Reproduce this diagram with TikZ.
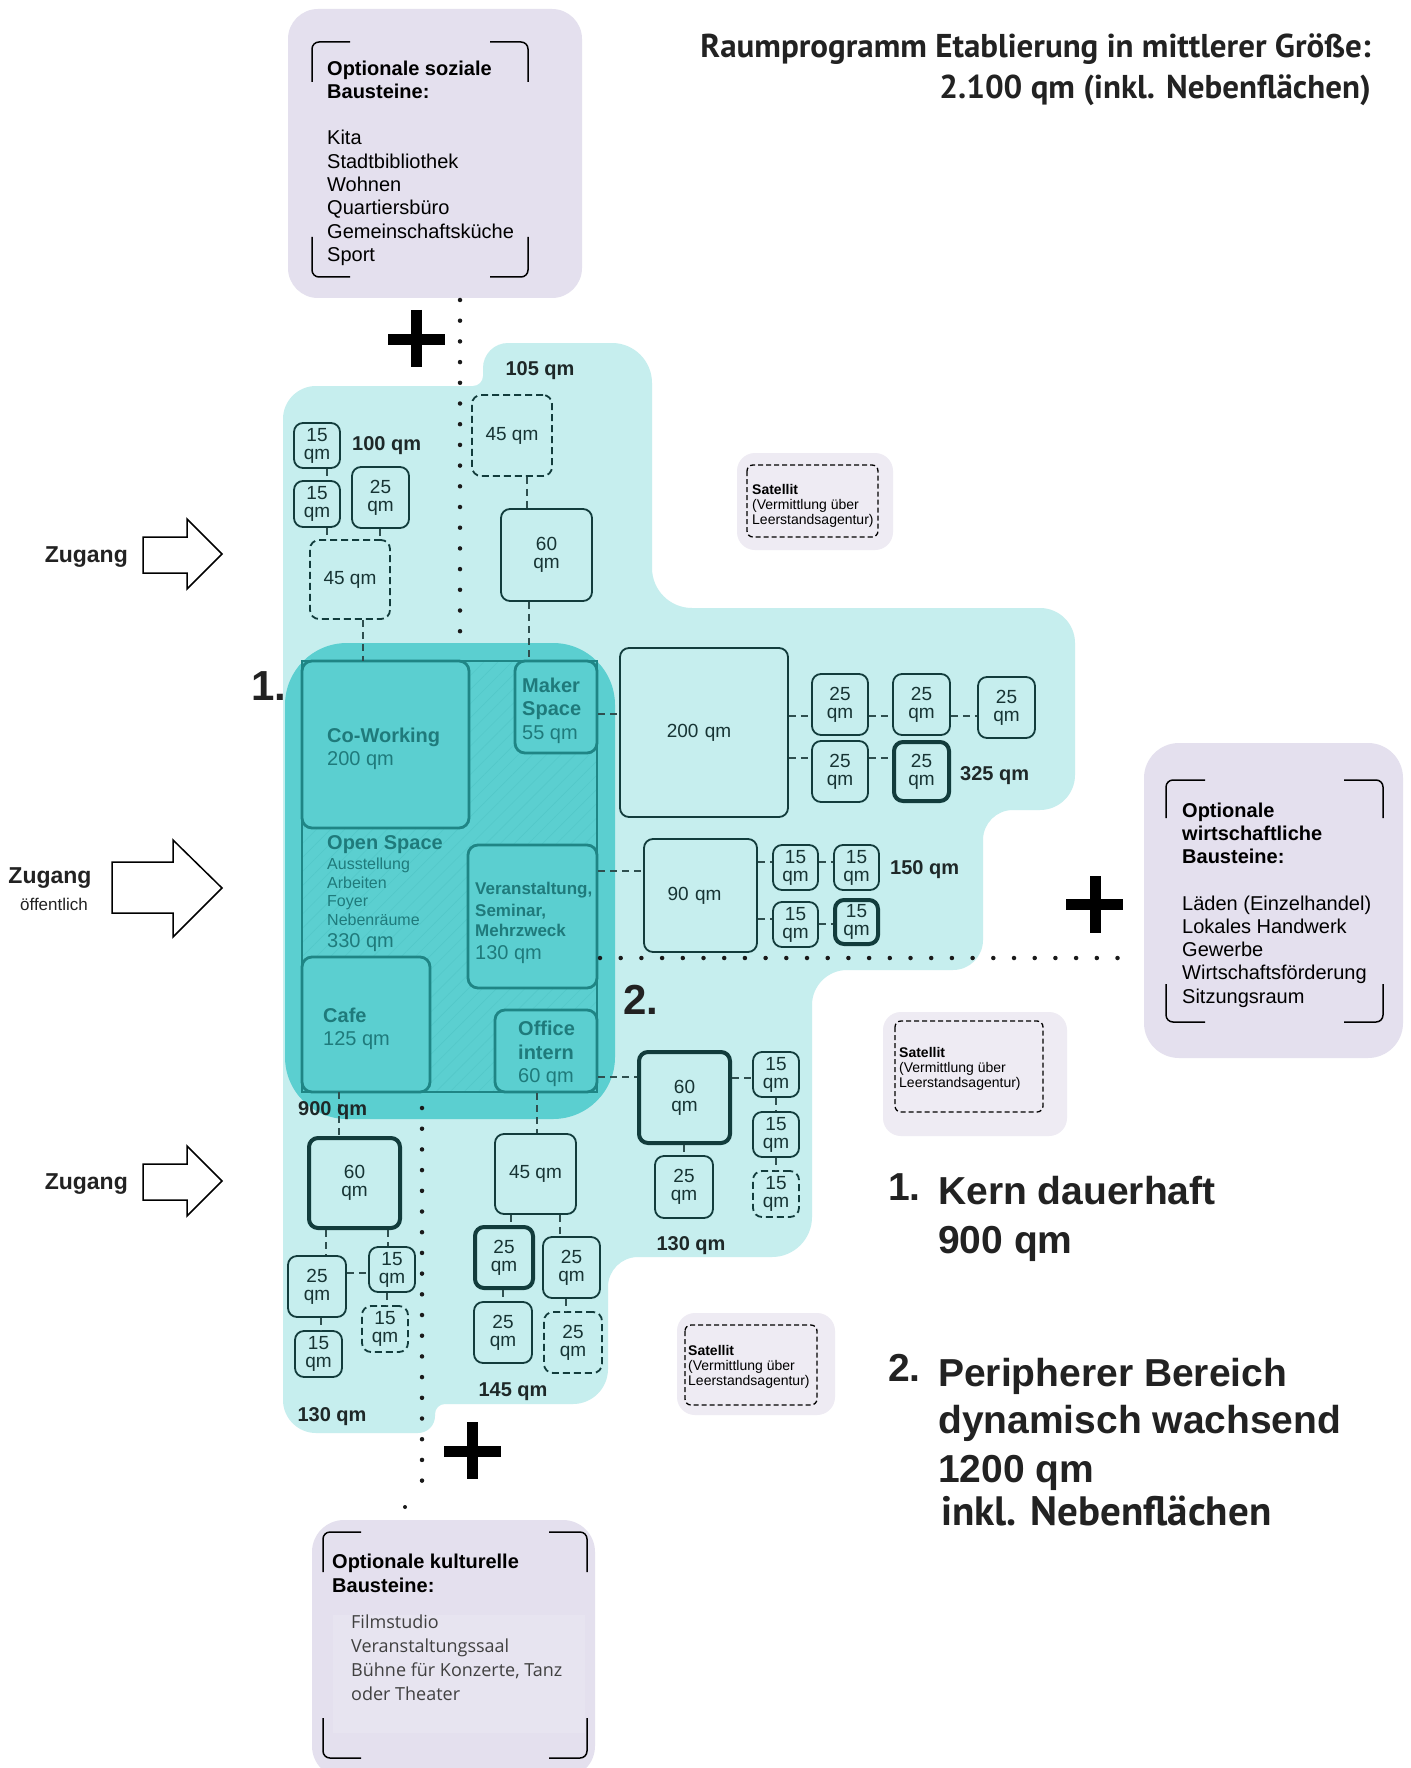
\documentclass[tikz,border=0pt]{standalone}
\usepackage{fontspec}
\setmainfont{Liberation Sans}
\newfontfamily\headfont{PT Sans}
\newfontfamily\listfont{Open Sans}
\usetikzlibrary{patterns.meta}

\definecolor{lightcyan}{HTML}{C6EEEE}
\definecolor{corefill}{HTML}{5BCFD0}
\definecolor{tealline}{HTML}{1F8585}
\definecolor{coretext}{HTML}{1F7A7B}
\definecolor{hatchc}{HTML}{53C8C9}
\definecolor{boxline}{HTML}{123C3C}
\definecolor{boxtext}{HTML}{173434}
\definecolor{connc}{HTML}{2F4F4F}
\definecolor{darktext}{HTML}{1E2828}
\definecolor{lavender}{HTML}{E4E0EE}
\definecolor{satfill}{HTML}{EEEBF3}
\definecolor{dotc}{HTML}{1A1A1A}
\definecolor{inktext}{HTML}{222222}

\newcommand{\setfs}[2]{\fontsize{#1}{#2}\selectfont}
% room box: options, name, centre, width, height, text
\newcommand{\room}[6]{\node[room,#1,minimum width=#4pt,minimum height=#5pt] (#2) at (#3) {#6};}
\newcommand{\coreroom}[5]{\node[coreroom,minimum width=#3pt,minimum height=#4pt] (#1) at (#2) {#5};}

\begin{document}
\begin{tikzpicture}[x=1pt,y=-1pt,
  room/.style={draw=boxline, line width=1.8pt, rounded corners=9pt, fill=lightcyan,
    inner sep=0pt, align=center, text=boxtext, font=\setfs{19}{18}},
  heavy/.style={line width=4pt},
  dashroom/.style={dash pattern=on 7pt off 4pt},
  coreroom/.style={draw=tealline, line width=2.8pt, rounded corners=10pt, fill=corefill, inner sep=0pt},
  conn/.style={draw=connc, line width=1.3pt, dash pattern=on 7pt off 5pt},
  sumlab/.style={font=\bfseries\setfs{20}{20}, text=darktext, inner sep=0pt},
  coretxt/.style={anchor=base west, inner sep=0pt, text=coretext},
  dots/.style={draw=dotc, line width=4.5pt, line cap=round, dash pattern=on 0pt off 20.7pt},
  plus/.style={draw=black, line width=11pt},
  bracket/.style={draw=black, line width=1.5pt, rounded corners=7pt},
  arrowshape/.style={draw=black, line width=1.5pt, fill=white, line join=miter},
  sattext/.style={anchor=base west, inner sep=0pt, align=left, font=\setfs{14}{15}, text=black},
  bigtext/.style={anchor=base west, inner sep=0pt, font=\bfseries\setfs{39}{39}, text=inktext}
]
\fill[white] (0,0) rectangle (1410,1768);
\useasboundingbox (0,0) rectangle (1410,1768);

% ---------- title ----------
\node[anchor=base east, inner sep=0pt, font=\headfont\bfseries\setfs{33}{33}, text=inktext] (title1) at (1371,58) {Raumprogramm Etablierung in mittlerer Größe:};
\node[anchor=base east, inner sep=0pt, font=\headfont\bfseries\setfs{33}{33}, text=inktext] (title2) at (1371,99) {2.100 qm (inkl. Nebenflächen)};

% ---------- optional building blocks (multi-line nodes sit on their last baseline) ----------
\fill[lavender, rounded corners=30pt] (288,9) rectangle (582,298);
\draw[bracket] (312,82) -- (312,42) -- (350,42);
\draw[bracket] (490,42) -- (528,42) -- (528,82);
\draw[bracket] (312,237) -- (312,277) -- (350,277);
\draw[bracket] (490,277) -- (528,277) -- (528,237);
\node[anchor=base west, inner sep=0pt, align=left, font=\setfs{20}{23.3}, text=black] (social) at (327,261.5)
  {\textbf{Optionale soziale}\\\textbf{Bausteine:}\\[23.3pt]Kita\\Stadtbibliothek\\Wohnen\\Quartiersbüro\\Gemeinschaftsküche\\Sport};

\fill[lavender, rounded corners=35pt] (1144,743) rectangle (1403,1058);
\draw[bracket] (1166,818) -- (1166,780) -- (1205,780);
\draw[bracket] (1344,780) -- (1383,780) -- (1383,818);
\draw[bracket] (1166,984) -- (1166,1022) -- (1205,1022);
\draw[bracket] (1344,1022) -- (1383,1022) -- (1383,984);
\node[anchor=base west, inner sep=0pt, align=left, font=\setfs{20}{23.2}, text=black] (econ) at (1182,1003)
  {\textbf{Optionale}\\\textbf{wirtschaftliche}\\\textbf{Bausteine:}\\[23.2pt]Läden (Einzelhandel)\\Lokales Handwerk\\Gewerbe\\Wirtschaftsförderung\\Sitzungsraum};

\fill[lavender, rounded corners=32pt] (312,1520) rectangle (595,1778);
\fill[lavender!88!white] (333,1615) rectangle (585,1733);
\draw[bracket] (323,1572) -- (323,1532) -- (361,1532);
\draw[bracket] (549,1532) -- (587,1532) -- (587,1572);
\draw[bracket] (323,1718) -- (323,1758) -- (361,1758);
\draw[bracket] (549,1758) -- (587,1758) -- (587,1718);
\node[anchor=base west, inner sep=0pt, align=left, font=\bfseries\setfs{20}{24}, text=black] (cult) at (332,1592)
  {Optionale kulturelle\\Bausteine:};
\node[anchor=base west, inner sep=0pt, align=left, font=\listfont\setfs{18}{24}, text=black!75] (cultlist) at (351,1700)
  {Filmstudio\\Veranstaltungssaal\\Bühne für Konzerte, Tanz\\oder Theater};

% ---------- satellites ----------
\fill[satfill, rounded corners=18pt] (737,453) rectangle (893,550);
\draw[line width=1.3pt, dash pattern=on 5pt off 3pt, rounded corners=6pt] (747,465) rectangle (878,537);
\node[sattext] (sat1) at (752,524) {\textbf{Satellit}\\(Vermittlung über\\Leerstandsagentur)};

\fill[satfill, rounded corners=18pt] (883,1012) rectangle (1067,1136);
\draw[line width=1.3pt, dash pattern=on 5pt off 3pt, rounded corners=6pt] (895,1021) rectangle (1043,1112);
\node[sattext] (sat2) at (899,1087) {\textbf{Satellit}\\(Vermittlung über\\Leerstandsagentur)};

\fill[satfill, rounded corners=18pt] (677,1313) rectangle (835,1415);
\draw[line width=1.3pt, dash pattern=on 5pt off 3pt, rounded corners=6pt] (685,1325) rectangle (817,1405);
\node[sattext] (sat3) at (688,1385) {\textbf{Satellit}\\(Vermittlung über\\Leerstandsagentur)};

% ---------- peripheral area ----------
\fill[lightcyan] (283,1400) -- (283,419) .. controls (283,400.8) and (297.8,386) .. (316,386)
  -- (473,386) .. controls (478.5,386) and (483,381.5) .. (483,376)
  -- (483,368) .. controls (483,354.2) and (494.2,343) .. (508,343)
  -- (612,343) .. controls (634.1,343) and (652,360.9) .. (652,383)
  -- (652,568) .. controls (652,590.1) and (669.9,608) .. (692,608)
  -- (1040,608) .. controls (1059.3,608) and (1075,623.7) .. (1075,643)
  -- (1075,775) .. controls (1075,794.3) and (1059.3,810) .. (1040,810)
  -- (1013,810) .. controls (996.4,810) and (983,823.4) .. (983,840)
  -- (983,940) .. controls (983,956.6) and (969.6,970) .. (953,970)
  -- (847,970) .. controls (827.7,970) and (812,985.7) .. (812,1005)
  -- (812,1217) .. controls (812,1239.1) and (794.1,1257) .. (772,1257)
  -- (638,1257) .. controls (621.4,1257) and (608,1270.4) .. (608,1287)
  -- (608,1369) .. controls (608,1388.3) and (592.3,1404) .. (573,1404)
  -- (445,1404) .. controls (439.5,1404) and (435,1408.5) .. (435,1414)
  -- (435,1416) .. controls (435,1425.4) and (427.4,1433) .. (418,1433)
  -- (316,1433) .. controls (297.8,1433) and (283,1418.2) .. (283,1400) -- cycle;

% ---------- core ----------
\fill[corefill, rounded corners=62pt] (285,643) rectangle (615,1119);
\node[draw=tealline, line width=2.8pt, minimum width=295pt, minimum height=431pt, inner sep=0pt,
  pattern={Lines[angle=45,distance=10pt,line width=0.6pt]}, pattern color=hatchc] (open) at (449.5,876.5) {};
\coreroom{cowork}{385.5,744.5}{167}{167}{}
\coreroom{maker}{556,707}{82}{92}{}
\coreroom{veran}{532.5,916.5}{129}{143}{}
\coreroom{cafe}{366,1024.5}{128}{135}{}
\coreroom{office}{546,1051}{102}{82}{}

% ---------- rooms ----------
% upper left
\room{}{u15a}{317,445.5}{46}{45}{15\\qm}
\room{}{u15b}{317,504}{46}{46}{15\\qm}
\room{}{u25}{380.5,497.5}{57}{61}{25\\qm}
\room{dashroom}{u45}{350,579.5}{80}{79}{45 qm}
% upper tab
\room{dashroom}{t45}{512,435.5}{80}{81}{45 qm}
\room{}{t60}{546.5,555}{91}{92}{60\\qm}
% right upper
\room{text width=168pt, align=center}{r200}{704,732.5}{168}{169}{\hspace*{-10pt}200 qm}
\room{}{q1}{840,704.5}{56}{61}{25\\qm}
\room{}{q2}{921.5,704.5}{57}{61}{25\\qm}
\room{}{q3}{1006.5,707.5}{57}{61}{25\\qm}
\room{}{q4}{840,771.5}{56}{61}{25\\qm}
\room{heavy}{q5}{921.5,771.5}{55}{59}{25\\qm}
% right middle
\room{text width=113pt, align=center}{r90}{700.5,895.5}{113}{113}{\hspace*{-12pt}90 qm}
\room{}{f1}{795.5,867.5}{45}{45}{15\\qm}
\room{}{f2}{856.5,867.5}{45}{45}{15\\qm}
\room{}{f3}{795.5,924.5}{45}{45}{15\\qm}
\room{heavy}{f4}{856.5,922}{43}{44}{15\\qm}
% right lower
\room{heavy}{r60}{684.5,1097.5}{91}{91}{60\\qm}
\room{}{g1}{776,1074.5}{46}{45}{15\\qm}
\room{}{g2}{776,1134.5}{46}{45}{15\\qm}
\room{dashroom}{g3}{776,1194}{46}{46}{15\\qm}
\room{}{r25}{684,1187}{58}{62}{25\\qm}
% lower left
\room{heavy}{l60}{354.5,1183}{91}{90}{60\\qm}
\room{}{l25}{317,1286.5}{58}{61}{25\\qm}
\room{}{l15a}{392,1269.5}{46}{45}{15\\qm}
\room{dashroom}{l15b}{385,1329}{46}{46}{15\\qm}
\room{}{l15c}{318.5,1354}{47}{46}{15\\qm}
% lower middle
\room{}{m45}{535.5,1174}{81}{80}{45 qm}
\room{heavy}{m25a}{504,1257.5}{58}{61}{25\\qm}
\room{}{m25b}{571.5,1267.5}{57}{61}{25\\qm}
\room{}{m25c}{503,1332.5}{58}{61}{25\\qm}
\room{dashroom}{m25d}{573,1342.5}{58}{61}{25\\qm}

% ---------- connectors ----------
\draw[conn] (u15a.south -| 327,0) -- (u15b.north -| 327,0);
\draw[conn] (u15b.south -| 327,0) -- (u45.north -| 327,0);
\draw[conn] (u25.south -| 380,0) -- (u45.north -| 380,0);
\draw[conn] (u45.south -| 363,0) -- (open.north -| 363,0);
\draw[conn] (t45.south -| 527,0) -- (t60.north -| 527,0);
\draw[conn] (t60.south -| 529,0) -- (maker.north -| 529,0);
\draw[conn] (maker.east |- 0,714) -- (r200.west |- 0,714);
\draw[conn] (r200.east |- 0,716) -- (q1.west |- 0,716);
\draw[conn] (q1.east |- 0,716) -- (q2.west |- 0,716);
\draw[conn] (q2.east |- 0,716) -- (q3.west |- 0,716);
\draw[conn] (r200.east |- 0,758) -- (q4.west |- 0,758);
\draw[conn] (q4.east |- 0,758) -- (q5.west |- 0,758);
\draw[conn] (veran.east |- 0,871) -- (r90.west |- 0,871);
\draw[conn] (r90.east |- 0,862) -- (f1.west |- 0,862);
\draw[conn] (f1.east |- 0,862) -- (f2.west |- 0,862);
\draw[conn] (r90.east |- 0,919) -- (f3.west |- 0,919);
\draw[conn] (f3.east |- 0,924) -- (f4.west |- 0,924);
\draw[conn] (office.east |- 0,1077) -- (r60.west |- 0,1077);
\draw[conn] (r60.east |- 0,1078) -- (g1.west |- 0,1078);
\draw[conn] (g1.south) -- (g2.north);
\draw[conn] (g2.south) -- (g3.north);
\draw[conn] (r60.south -| 684,0) -- (r25.north -| 684,0);
\draw[conn] (open.south -| 339,0) -- (l60.north -| 339,0);
\draw[conn] (l60.south -| 326,0) -- (l25.north -| 326,0);
\draw[conn] (l60.south -| 388,0) -- (l15a.north -| 388,0);
\draw[conn] (l25.east |- 0,1273) -- (l15a.west |- 0,1273);
\draw[conn] (l15a.south -| 387,0) -- (l15b.north -| 387,0);
\draw[conn] (l25.south -| 321,0) -- (l15c.north -| 321,0);
\draw[conn] (office.south -| 537,0) -- (m45.north -| 537,0);
\draw[conn] (m45.south -| 511,0) -- (m25a.north -| 511,0);
\draw[conn] (m45.south -| 560,0) -- (m25b.north -| 560,0);
\draw[conn] (m25a.south -| 503,0) -- (m25c.north -| 503,0);
\draw[conn] (m25b.south -| 566,0) -- (m25d.north -| 566,0);

% ---------- core texts ----------
\node[coretxt, font=\bfseries\setfs{20}{20}] (cwt) at (327,742) {Co-Working};
\node[coretxt, font=\setfs{20}{20}] (cwq) at (327,765) {200 qm};
\node[coretxt, font=\bfseries\setfs{20}{20}] (mk1) at (522,692) {Maker};
\node[coretxt, font=\bfseries\setfs{20}{20}] (mk2) at (522,715) {Space};
\node[coretxt, font=\setfs{20}{20}] (mkq) at (522,739) {55 qm};
\node[coretxt, font=\bfseries\setfs{20}{20}] (ost) at (327,849) {Open Space};
\node[coretxt, font=\setfs{16}{16}] (os1) at (327,869) {Ausstellung};
\node[coretxt, font=\setfs{16}{16}] (os2) at (327,888) {Arbeiten};
\node[coretxt, font=\setfs{16}{16}] (os3) at (327,906) {Foyer};
\node[coretxt, font=\setfs{16}{16}] (os4) at (327,925) {Nebenräume};
\node[coretxt, font=\setfs{20}{20}] (osq) at (327,947) {330 qm};
\node[coretxt, font=\bfseries\setfs{17}{17}] (ve1) at (475,894) {Veranstaltung,};
\node[coretxt, font=\bfseries\setfs{17}{17}] (ve2) at (475,916) {Seminar,};
\node[coretxt, font=\bfseries\setfs{17}{17}] (ve3) at (475,936) {Mehrzweck};
\node[coretxt, font=\setfs{20}{20}] (veq) at (475,959) {130 qm};
\node[coretxt, font=\bfseries\setfs{20}{20}] (cf1) at (323,1022) {Cafe};
\node[coretxt, font=\setfs{20}{20}] (cfq) at (323,1045) {125 qm};
\node[coretxt, font=\bfseries\setfs{20}{20}] (of1) at (518,1035) {Office};
\node[coretxt, font=\bfseries\setfs{20}{20}] (of2) at (518,1059) {intern};
\node[coretxt, font=\setfs{20}{20}] (ofq) at (518,1082) {60 qm};

% ---------- area sums ----------
\node[sumlab, anchor=base west] (s900) at (298,1115) {900 qm};
\node[sumlab, anchor=base west] (s100) at (352,450) {100 qm};
\node[sumlab, anchor=base] (s105) at (540,375) {105 qm};
\node[sumlab, anchor=base west] (s325) at (960,780) {325 qm};
\node[sumlab, anchor=base west] (s150) at (890,874) {150 qm};
\node[sumlab, anchor=base] (s130r) at (691,1250) {130 qm};
\node[sumlab, anchor=base] (s130l) at (332,1421) {130 qm};
\node[sumlab, anchor=base] (s145) at (513,1396) {145 qm};

% ---------- dotted boundaries ----------
\coordinate (dva) at (460,300);
\coordinate (dvb) at (460,645);
\coordinate (dwa) at (422,1108);
\coordinate (dwb) at (422,1496);
\coordinate (dha) at (600,958);
\coordinate (dhb) at (1130,958);
\draw[dots] (dva) -- (dvb);
\draw[dots] (dwa) -- (dwb);
\draw[dots] (dha) -- (dhb);
\fill[dotc] (405,1507) circle (2pt);

% ---------- plus signs ----------
\draw[plus] (388,339) -- (445,339);
\draw[plus] (416,310) -- (416,367);
\draw[plus] (1066,904) -- (1123,904);
\draw[plus] (1095,876) -- (1095,933);
\draw[plus] (444,1451) -- (501,1451);
\draw[plus] (472.5,1422) -- (472.5,1479);

% ---------- numbers ----------
\node[anchor=base west, inner sep=0pt, font=\bfseries\setfs{42}{42}, text=inktext] (n1) at (251,700) {1.};
\node[anchor=base west, inner sep=0pt, font=\bfseries\setfs{42}{42}, text=inktext] (n2) at (623,1014) {2.};

% ---------- entrances ----------
\draw[arrowshape] (143,537) -- (187,537) -- (187,519) -- (222,554) -- (187,589) -- (187,573) -- (143,573) -- cycle;
\draw[arrowshape] (112,862) -- (173,862) -- (173,840) -- (222,888) -- (173,937) -- (173,913) -- (112,913) -- cycle;
\draw[arrowshape] (143,1164) -- (187,1164) -- (187,1146) -- (222,1181) -- (187,1216) -- (187,1200) -- (143,1200) -- cycle;
\node[anchor=base east, inner sep=0pt, font=\bfseries\setfs{23}{23}, text=inktext] (z1) at (128,562) {Zugang};
\node[anchor=base, inner sep=0pt, font=\bfseries\setfs{23}{23}, text=inktext] (z2) at (50,883) {Zugang};
\node[anchor=base, inner sep=0pt, font=\setfs{17}{17}, text=inktext] (z2b) at (54,910) {öffentlich};
\node[anchor=base east, inner sep=0pt, font=\bfseries\setfs{23}{23}, text=inktext] (z3) at (128,1189) {Zugang};

% ---------- legend ----------
\node[bigtext] (k1) at (888,1200) {1.};
\node[bigtext] (k1a) at (938,1204) {Kern dauerhaft};
\node[bigtext] (k1b) at (938,1253) {900 qm};
\node[bigtext] (k2) at (888,1381) {2.};
\node[bigtext] (k2a) at (938,1386) {Peripherer Bereich};
\node[bigtext] (k2b) at (938,1433) {dynamisch wachsend};
\node[bigtext] (k2c) at (938,1482) {1200 qm};
\node[anchor=base west, inner sep=0pt, font=\headfont\bfseries\setfs{41}{41}, text=inktext] (k2d) at (941,1525) {inkl. Nebenflächen};
\end{tikzpicture}
\end{document}
